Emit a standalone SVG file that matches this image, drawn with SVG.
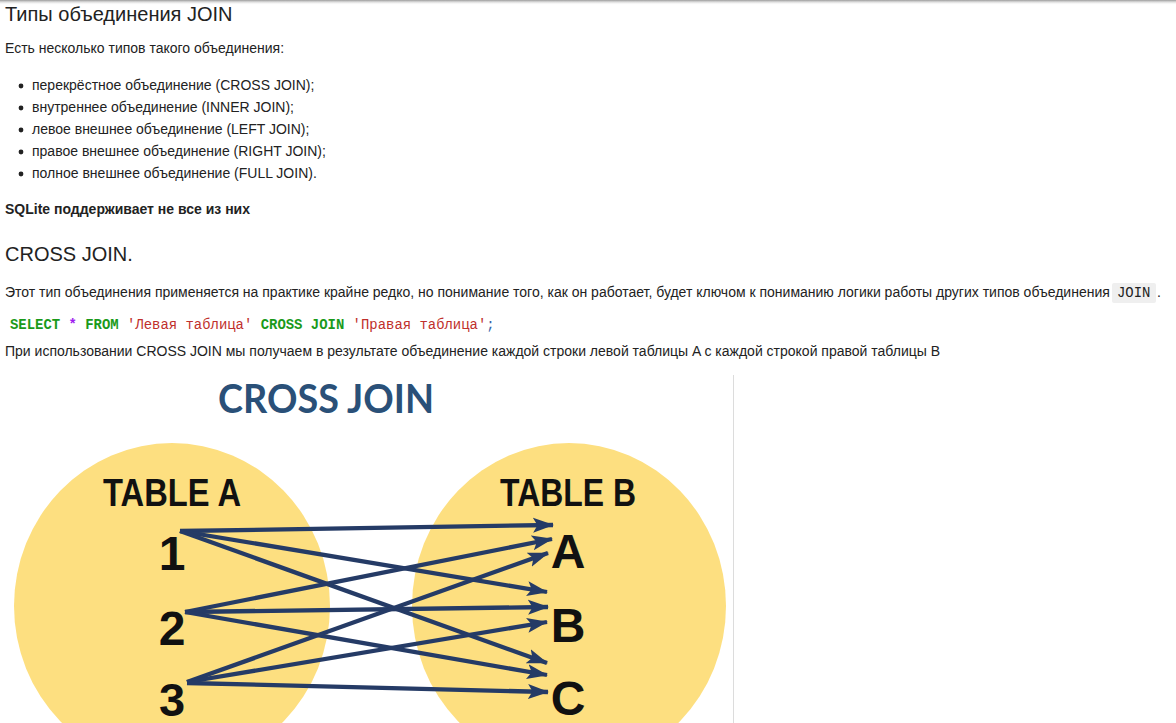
<svg xmlns="http://www.w3.org/2000/svg" width="1176" height="723" viewBox="0 0 1176 723">
<defs>
<linearGradient id="shadow" x1="0" y1="0" x2="0" y2="1">
<stop offset="0" stop-color="#9a9a9a"/>
<stop offset="1" stop-color="#ffffff" stop-opacity="0"/>
</linearGradient>
<marker id="ah" markerUnits="userSpaceOnUse" markerWidth="24" markerHeight="18" refX="20" refY="9" orient="auto">
<path d="M0,1.5 L21,9 L0,16.5 L4.5,9 z" fill="#253b66"/>
</marker>
<style>
.t{font-family:"Liberation Sans",Arial,sans-serif;fill:#222;}
.h{font-size:20px;}
.b{font-size:14px;}
.mono{font-family:"Liberation Mono","DejaVu Sans Mono",monospace;font-size:13.93px;}
.kw{fill:#1a9a1a;font-weight:bold;}
.op{fill:#a020f0;font-weight:bold;}
.str{fill:#c0302c;}
.pun{fill:#3a63a8;}
.big{font-family:"Liberation Sans",Arial,sans-serif;font-weight:bold;fill:#111;}
.conn line{stroke:#253b66;stroke-width:4.3;marker-end:url(#ah);}
.ell{fill:#fddf80;}
</style>
</defs>
<rect width="1176" height="723" fill="#ffffff"/>
<rect width="1176" height="5" fill="url(#shadow)"/>

<g id="page-text">
<text class="t h" x="5" y="21">Типы объединения JOIN</text>
<text class="t b" x="5" y="53">Есть несколько типов такого объединения:</text>
<g id="bullets">
<circle cx="21" cy="86" r="2.4" fill="#222"/>
<text class="t b" x="32" y="90">перекрёстное объединение (CROSS JOIN);</text>
<circle cx="21" cy="108" r="2.4" fill="#222"/>
<text class="t b" x="32" y="112">внутреннее объединение (INNER JOIN);</text>
<circle cx="21" cy="130" r="2.4" fill="#222"/>
<text class="t b" x="32" y="134">левое внешнее объединение (LEFT JOIN);</text>
<circle cx="21" cy="152" r="2.4" fill="#222"/>
<text class="t b" x="32" y="156">правое внешнее объединение (RIGHT JOIN);</text>
<circle cx="21" cy="174" r="2.4" fill="#222"/>
<text class="t b" x="32" y="178">полное внешнее объединение (FULL JOIN).</text>
</g>
<text class="t b" x="5" y="214" font-weight="bold">SQLite поддерживает не все из них</text>
<text class="t h" x="5" y="261">CROSS JOIN.</text>
<text class="t b" x="5" y="297">Этот тип объединения применяется на практике крайне редко, но понимание того, как он работает, будет ключом к пониманию логики работы других типов объединения</text>
<rect x="1112" y="283" width="44" height="20" rx="2" fill="#efefef"/>
<text class="mono" x="1117" y="297" font-size="12.5" fill="#222">JOIN</text>
<text class="t b" x="1157" y="297">.</text>
<text class="mono" x="10" y="329"><tspan class="kw">SELECT</tspan> <tspan class="op">*</tspan> <tspan class="kw">FROM</tspan> <tspan class="str">'Левая таблица'</tspan> <tspan class="kw">CROSS</tspan> <tspan class="kw">JOIN</tspan> <tspan class="str">'Правая таблица'</tspan><tspan class="pun">;</tspan></text>
<text class="t b" x="5" y="356">При использовании CROSS JOIN мы получаем в результате объединение каждой строки левой таблицы A с каждой строкой правой таблицы B</text>
</g>

<line x1="733.5" y1="375" x2="733.5" y2="723" stroke="#dcdcdc" stroke-width="1"/>

<text x="326" y="413" text-anchor="middle" font-family="Lato,'Noto Sans',sans-serif" font-weight="bold" font-size="41" fill="#2a5078" textLength="216" lengthAdjust="spacingAndGlyphs">CROSS JOIN</text>

<g id="tableA">
<ellipse class="ell" cx="172" cy="606" rx="158" ry="163"/>
<text class="big" x="103" y="506" font-size="38" textLength="138" lengthAdjust="spacingAndGlyphs">TABLE A</text>
</g>
<g id="tableB">
<ellipse class="ell" cx="569" cy="606" rx="157" ry="163"/>
<text class="big" x="500" y="506" font-size="38" textLength="136" lengthAdjust="spacingAndGlyphs">TABLE B</text>
</g>

<g id="row1"><text class="big" x="172" y="570" font-size="48" text-anchor="middle">1</text></g>
<g id="row2"><text class="big" x="172" y="645" font-size="48" text-anchor="middle">2</text></g>
<g id="row3"><text class="big" x="172" y="716" font-size="47" text-anchor="middle">3</text></g>
<g id="rowA"><text class="big" x="568" y="568" font-size="48" text-anchor="middle">A</text></g>
<g id="rowB"><text class="big" x="568" y="642" font-size="48" text-anchor="middle">B</text></g>
<g id="rowC"><text class="big" x="568" y="715" font-size="48" text-anchor="middle">C</text></g>

<g id="connectors" class="conn">
<line x1="180" y1="531" x2="553" y2="525"/>
<line x1="180" y1="531" x2="547" y2="592"/>
<line x1="180" y1="531" x2="547" y2="663"/>
<line x1="185" y1="612" x2="552" y2="539"/>
<line x1="185" y1="612" x2="548" y2="607"/>
<line x1="185" y1="612" x2="547" y2="675"/>
<line x1="187" y1="682" x2="548" y2="553"/>
<line x1="187" y1="682" x2="547" y2="622"/>
<line x1="187" y1="683" x2="548" y2="692"/>
</g>
</svg>
